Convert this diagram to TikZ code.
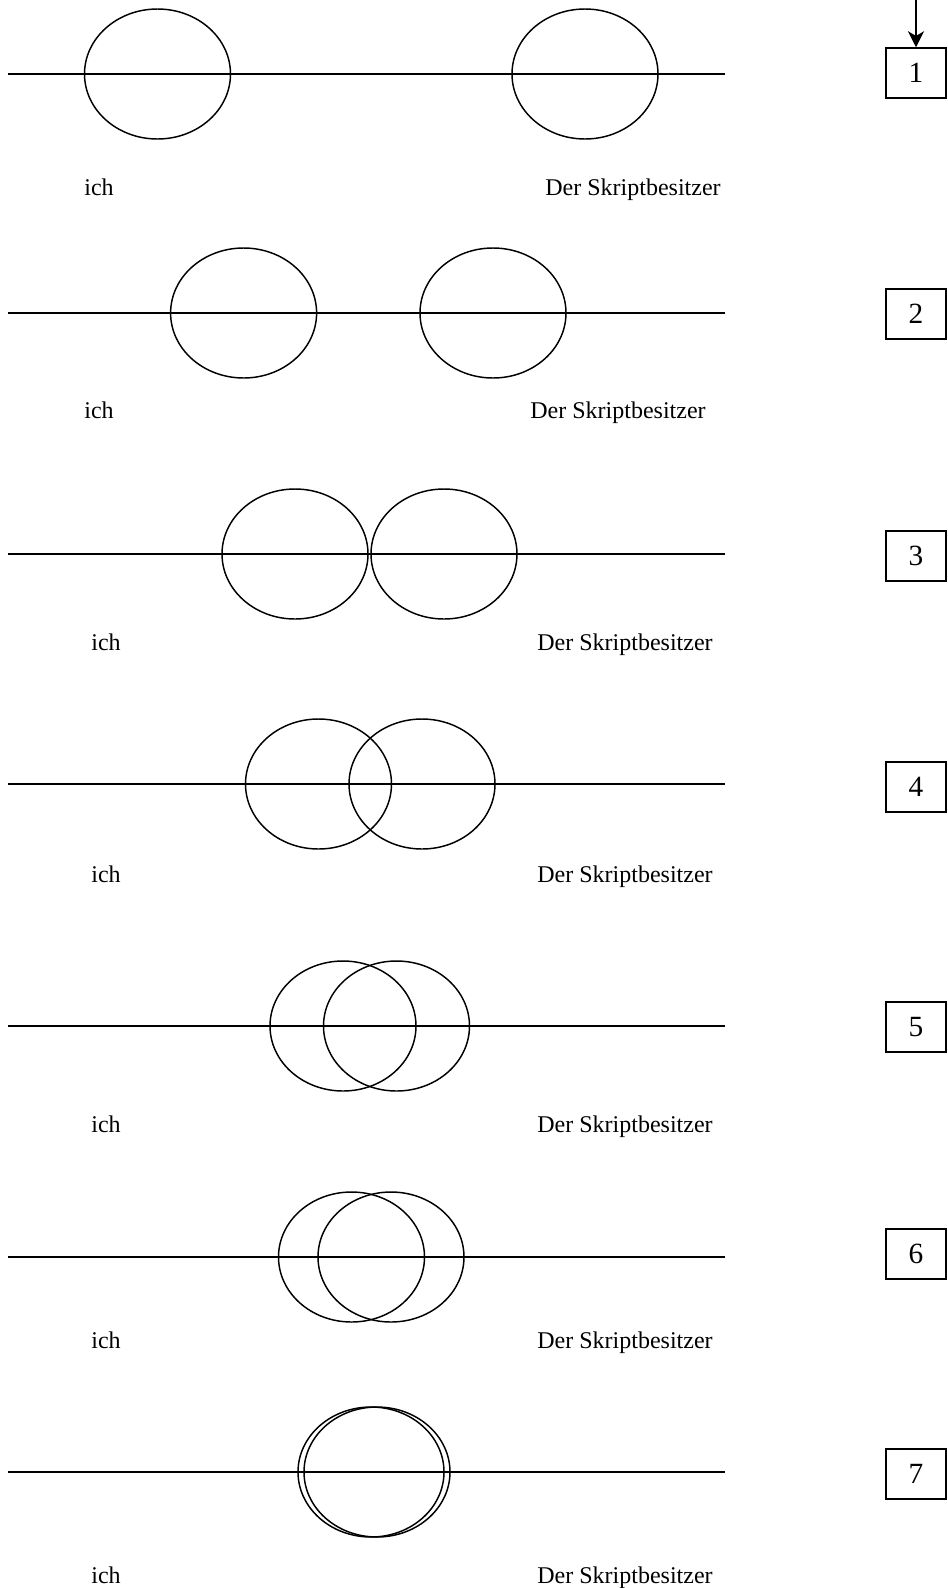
\documentclass[tikz,border=0pt]{standalone}
\usepackage{fontspec}
\setmainfont{Liberation Serif}
\usetikzlibrary{shapes.geometric, arrows.meta, positioning}

\tikzset{
  ring/.style={draw, ellipse, line width=1.1pt, minimum width=109.5pt, minimum height=97.5pt, inner sep=0pt},
  track/.style={line width=1.4pt},
  numbox/.style={draw, line width=1.1pt, minimum width=45pt, minimum height=37.5pt, inner sep=0pt, font=\fontsize{22}{24}\selectfont},
  who/.style={anchor=base, inner sep=0pt, font=\fontsize{18}{20}\selectfont}
}

\begin{document}
\begin{tikzpicture}[x=0.75pt, y=-0.75pt]
\useasboundingbox (0,0) rectangle (947,1588);
% one row per stage: line, two rings, names, number box
\foreach \n/\ly/\xa/\xb/\ty/\ix/\dx/\by in {1/74/157.5/585/195/99/633/73,
    2/313/243.6/493/418/99/618/314,
    3/554/295/444/650/106/625/556,
    4/784/318.5/422/882/106/625/787,
    5/1026/343/396.5/1132/106/625/1027,
    6/1257/351.5/391/1348/106/625/1254,
    7/1472/371/377/1583/106/625/1474}
{
  \coordinate (l\n) at (8,\ly);
  \coordinate (r\n) at (725,\ly);
  \draw[track] (l\n) -- (r\n);
  \node[ring] (ich\n) at (\xa,\ly) {};
  \node[ring] (owner\n) at (\xb,\ly) {};
  \node[who] (lich\n) at (\ix,\ty) {ich};
  \node[who] (lowner\n) at (\dx,\ty) {Der Skriptbesitzer};
  \node[numbox] (stage\n) at (916,\by) {\n};
}
\coordinate (top) at (916,0);
\draw[track, -{Stealth[length=12pt, width=12pt, inset=3.5pt]}] (top) -- (stage1.north);
\end{tikzpicture}
\end{document}
